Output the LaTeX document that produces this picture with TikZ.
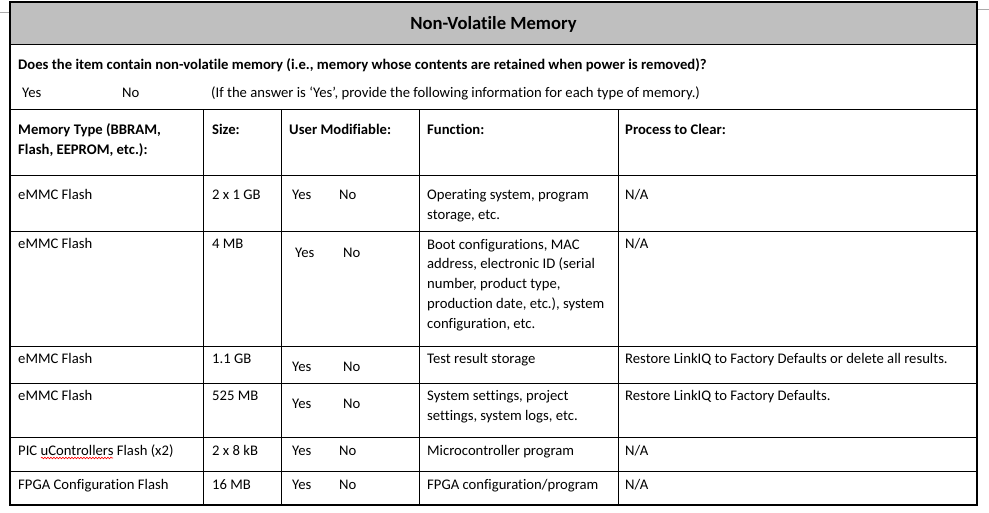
\documentclass[tikz,border=0pt]{standalone}
\usepackage{fontspec}
\setmainfont{Carlito}[Ligatures=NoCommon]
\usetikzlibrary{decorations.pathmorphing}
\definecolor{headgray}{RGB}{191,191,191}
\definecolor{markgray}{RGB}{170,170,170}

\begin{document}
\begin{tikzpicture} [
	x=1pt, y=-1pt, % one unit per pixel, y runs downwards
	every node/.style={inner sep=0pt, anchor=base west, align=left, font=\fontsize{14.67}{20}\selectfont}, % plain cell text, base = last line
	head/.style={font=\fontsize{14.67}{20}\selectfont\bfseries}, % bold header text
	title/.style={anchor=base, font=\fontsize{18.6}{22}\selectfont\bfseries}, % table title
	rule/.style={line width=1pt}, % inner cell lines
	frame/.style={line width=2pt}, % outer border
	]
	\useasboundingbox (0,0) rectangle (989,513);
	% page margin marks
	\draw[markgray, line width=0.8pt] (0,12) -- (10,12);
	\draw[markgray, line width=0.8pt] (977,9) -- (989,9);
	% title bar
	\fill[headgray] (10,2) rectangle (977,45);
	\draw[rule] (10,45) -- (977,45);
	\node[title] (title) at (493.5,29.5) {Non-Volatile Memory};
	% question rows
	\node[head] (q0) at (18,70) {Does the item contain non-volatile memory (i.e., memory whose contents are retained when power is removed)?};
	\node (qyes) at (22,98) {Yes};
	\node (qno) at (122,98) {No};
	\node (qnote) at (211,98) {(If the answer is ‘Yes’, provide the following information for each type of memory.)};
	% grid
	\draw[rule] (10,110) -- (977,110);
	\draw[rule] (10,175.5) -- (977,175.5);
	\draw[rule] (10,232) -- (977,232);
	\draw[rule] (10,346.5) -- (977,346.5);
	\draw[rule] (10,383.5) -- (977,383.5);
	\draw[rule] (10,437) -- (977,437);
	\draw[rule] (10,471) -- (977,471);
	\draw[rule] (203,110) -- (203,505);
	\draw[rule] (281,110) -- (281,505);
	\draw[rule] (419,110) -- (419,505);
	\draw[rule] (618,110) -- (618,505);
	\draw[frame] (10,2) rectangle (977,505);
	% column headers
	\node[head] (h1) at (18,155) {Memory Type (BBRAM,\\Flash, EEPROM, etc.):};
	\node[head] (h2) at (212,135) {Size:};
	\node[head] (h3) at (289,135) {User Modifiable:};
	\node[head] (h4) at (427,135) {Function:};
	\node[head] (h5) at (625,135) {Process to Clear:};
	% row 1
	\node (r1a) at (18,200) {eMMC Flash};
	\node (r1b) at (212,200) {2 x 1 GB};
	\node (r1y) at (292,200) {Yes};
	\node (r1n) at (339,200) {No};
	\node (r1c) at (427,220) {Operating system, program\\storage, etc.};
	\node (r1d) at (625,200) {N/A};
	% row 2
	\node (r2a) at (18,249) {eMMC Flash};
	\node (r2b) at (212,249) {4 MB};
	\node (r2y) at (295,258) {Yes};
	\node (r2n) at (343,258) {No};
	\node (r2c) at (427,329) {Boot configurations, MAC\\address, electronic ID (serial\\number, product type,\\production date, etc.), system\\configuration, etc.};
	\node (r2d) at (625,249) {N/A};
	% row 3
	\node (r3a) at (18,363) {eMMC Flash};
	\node (r3b) at (212,363) {1.1 GB};
	\node (r3y) at (292,372) {Yes};
	\node (r3n) at (343,372) {No};
	\node (r3c) at (427,363) {Test result storage};
	\node (r3d) at (625,363) {Restore LinkIQ to Factory Defaults or delete all results.};
	% row 4
	\node (r4a) at (18,400) {eMMC Flash};
	\node (r4b) at (212,400) {525 MB};
	\node (r4y) at (292,409) {Yes};
	\node (r4n) at (343,409) {No};
	\node (r4c) at (427,420) {System settings, project\\settings, system logs, etc.};
	\node (r4d) at (625,400) {Restore LinkIQ to Factory Defaults.};
	% row 5
	\node (r5a) at (18,455) {PIC uControllers Flash (x2)};
	\node (r5b) at (212,455) {2 x 8 kB};
	\node (r5y) at (292,455) {Yes};
	\node (r5n) at (339,455) {No};
	\node (r5c) at (427,455) {Microcontroller program};
	\node (r5d) at (625,455) {N/A};
	\draw[red, line width=0.6pt, decorate, decoration={snake, amplitude=0.8pt, segment length=3pt}] (41,458) -- (113,458); % spell-check mark
	% row 6
	\node (r6a) at (18,489) {FPGA Configuration Flash};
	\node (r6b) at (212,489) {16 MB};
	\node (r6y) at (292,489) {Yes};
	\node (r6n) at (339,489) {No};
	\node (r6c) at (427,489) {FPGA configuration/program};
	\node (r6d) at (625,489) {N/A};
\end{tikzpicture}
\end{document}
